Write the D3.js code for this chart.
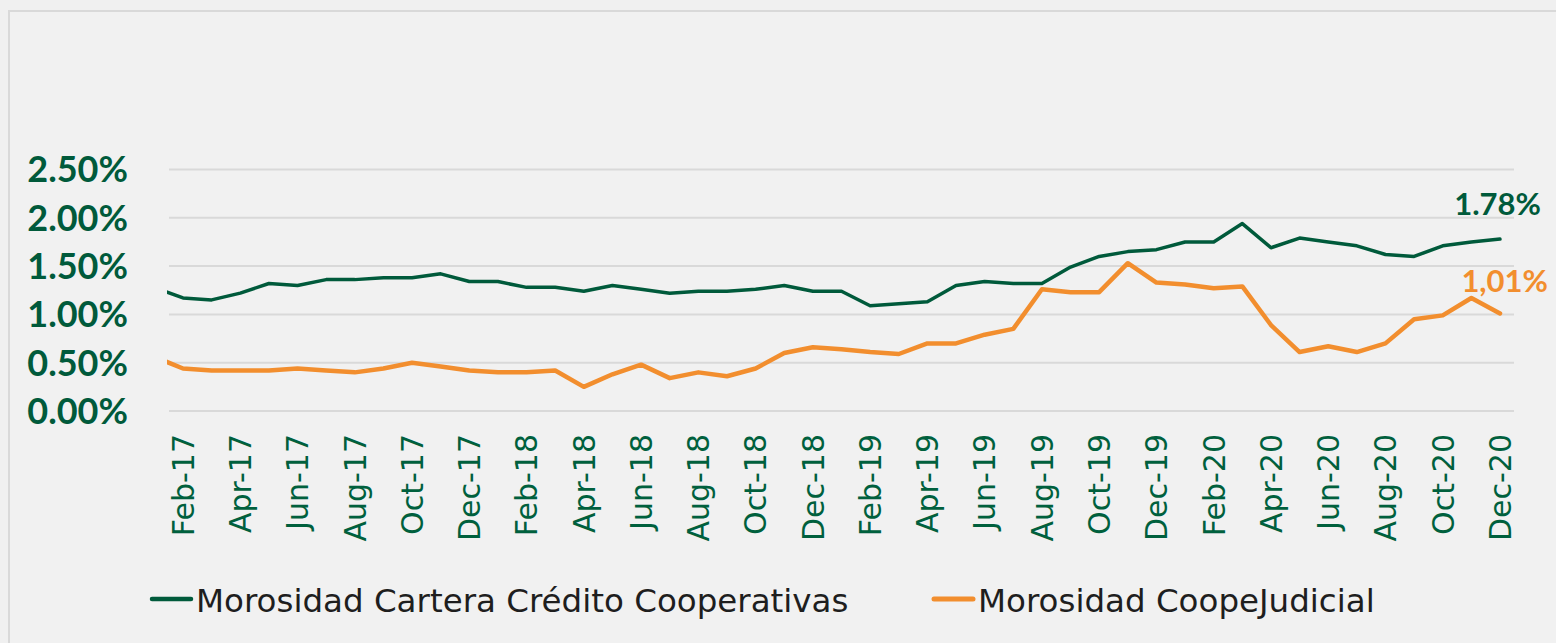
<!DOCTYPE html>
<html>
<head>
<meta charset="utf-8">
<title>Morosidad</title>
<style>
    body { margin: 0; background: #f0f0f0; }
    svg { display: block; }
</style>
<script src="https://cdnjs.cloudflare.com/ajax/libs/d3/7.8.5/d3.min.js"></script>
</head>
<body>
<div id="chart"></div>
<script>
// months Jan-17 .. Dec-20 (Jan-17 sits just left of the plot area, clipped like the original)
const months = [
    "Jan-17","Feb-17","Mar-17","Apr-17","May-17","Jun-17","Jul-17","Aug-17","Sep-17","Oct-17","Nov-17","Dec-17",
    "Jan-18","Feb-18","Mar-18","Apr-18","May-18","Jun-18","Jul-18","Aug-18","Sep-18","Oct-18","Nov-18","Dec-18",
    "Jan-19","Feb-19","Mar-19","Apr-19","May-19","Jun-19","Jul-19","Aug-19","Sep-19","Oct-19","Nov-19","Dec-19",
    "Jan-20","Feb-20","Mar-20","Apr-20","May-20","Jun-20","Jul-20","Aug-20","Sep-20","Oct-20","Nov-20","Dec-20"
];
const cooperativas = [
    1.28,1.17,1.15,1.22,1.32,1.30,1.36,1.36,1.38,1.38,1.42,1.34,
    1.34,1.28,1.28,1.24,1.30,1.26,1.22,1.24,1.24,1.26,1.30,1.24,
    1.24,1.09,1.11,1.13,1.30,1.34,1.32,1.32,1.49,1.60,1.65,1.67,
    1.75,1.75,1.94,1.69,1.79,1.75,1.71,1.62,1.60,1.71,1.75,1.78
];
const coopeJudicial = [
    0.56,0.44,0.42,0.42,0.42,0.44,0.42,0.40,0.44,0.50,0.46,0.42,
    0.40,0.40,0.42,0.25,0.38,0.48,0.34,0.40,0.36,0.44,0.60,0.66,
    0.64,0.61,0.59,0.70,0.70,0.79,0.85,1.26,1.23,1.23,1.53,1.33,
    1.31,1.27,1.29,0.89,0.61,0.67,0.61,0.70,0.95,0.99,1.17,1.01
];
const yTicks = [0, 0.5, 1.0, 1.5, 2.0, 2.5];
const seriesNames = ["Morosidad Cartera Crédito Cooperativas", "Morosidad CoopeJudicial"];
const lastLabels = ["1.78%", "1,01%"];

const W = 1556, H = 643;
const green = "#005a3b", orange = "#f28e2e";

const svg = d3.select("#chart").append("svg")
    .attr("width", W).attr("height", H);

svg.append("rect").attr("width", W).attr("height", H).attr("fill", "#f0f0f0");
svg.append("rect")
    .attr("x", 9).attr("y", 11).attr("width", W).attr("height", H)
    .attr("fill", "#f1f1f1").attr("stroke", "#d9d9d9").attr("stroke-width", 2);

const plotLeft = 168, plotRight = 1514;

const x = d3.scaleLinear().domain([1, months.length - 1]).range([183, 1500]);
const y = d3.scaleLinear().domain([0, 2.5]).range([411, 169.5]);

// gridlines
svg.append("g").selectAll("line")
    .data(yTicks).enter().append("line")
    .attr("x1", plotLeft + 1).attr("x2", plotRight)
    .attr("y1", d => y(d)).attr("y2", d => y(d))
    .attr("stroke", "#d9d9d9").attr("stroke-width", 2);

// y labels
svg.append("g").selectAll("text")
    .data(yTicks).enter().append("text")
    .attr("x", 128).attr("y", d => y(d))
    .attr("dy", "0.36em")
    .attr("text-anchor", "end")
    .style("font-family", "Lato, sans-serif")
    .style("font-weight", "bold")
    .style("font-size", "36px")
    .attr("fill", green)
    .text(d => d.toFixed(2) + "%");

// x labels every second month from Feb-17
svg.append("g").selectAll("text")
    .data(months.map((m, i) => ({m, i})).filter(d => d.i % 2 === 1))
    .enter().append("text")
    .attr("transform", d => "translate(" + x(d.i) + ",434) rotate(-90)")
    .attr("dy", "0.36em")
    .attr("text-anchor", "end")
    .style("font-family", "'DejaVu Sans', sans-serif")
    .style("font-size", "30px")
    .attr("fill", "#00603d")
    .text(d => d.m);

svg.append("clipPath").attr("id", "plotclip")
    .append("rect").attr("x", plotLeft - 1).attr("y", 0)
    .attr("width", plotRight - plotLeft + 1).attr("height", H);

const line = d3.line().x((d, i) => x(i)).y(d => y(d));

svg.append("path").datum(coopeJudicial)
    .attr("clip-path", "url(#plotclip)")
    .attr("d", line).attr("fill", "none")
    .attr("stroke", orange).attr("stroke-width", 4.5)
    .attr("stroke-linejoin", "round").attr("stroke-linecap", "round");

svg.append("path").datum(cooperativas)
    .attr("clip-path", "url(#plotclip)")
    .attr("d", line).attr("fill", "none")
    .attr("stroke", green).attr("stroke-width", 3.5)
    .attr("stroke-linejoin", "round").attr("stroke-linecap", "round");

// end labels
const last = months.length - 1;
svg.append("text")
    .attr("x", x(last) + 41).attr("y", y(cooperativas[last]) - 24)
    .attr("text-anchor", "end")
    .style("font-family", "Lato, sans-serif").style("font-weight", "bold").style("font-size", "31px")
    .attr("fill", green).text(lastLabels[0]);
svg.append("text")
    .attr("x", x(last) + 48).attr("y", y(coopeJudicial[last]) - 21)
    .attr("text-anchor", "end")
    .style("font-family", "Lato, sans-serif").style("font-weight", "bold").style("font-size", "31px")
    .attr("fill", orange).text(lastLabels[1]);

// legend
const legend = [{x: 150, c: green, w: 4.5}, {x: 932, c: orange, w: 5}];
legend.forEach((l, i) => {
    svg.append("line")
        .attr("x1", l.x + 2).attr("x2", l.x + 41)
        .attr("y1", 599).attr("y2", 599)
        .attr("stroke", l.c).attr("stroke-width", l.w).attr("stroke-linecap", "round");
    svg.append("text")
        .attr("x", l.x + 46).attr("y", 612)
        .style("font-family", "'DejaVu Sans', sans-serif")
        .style("font-size", "32.5px")
        .attr("fill", "#1e1e1e")
        .text(seriesNames[i]);
});
</script>
</body>
</html>
